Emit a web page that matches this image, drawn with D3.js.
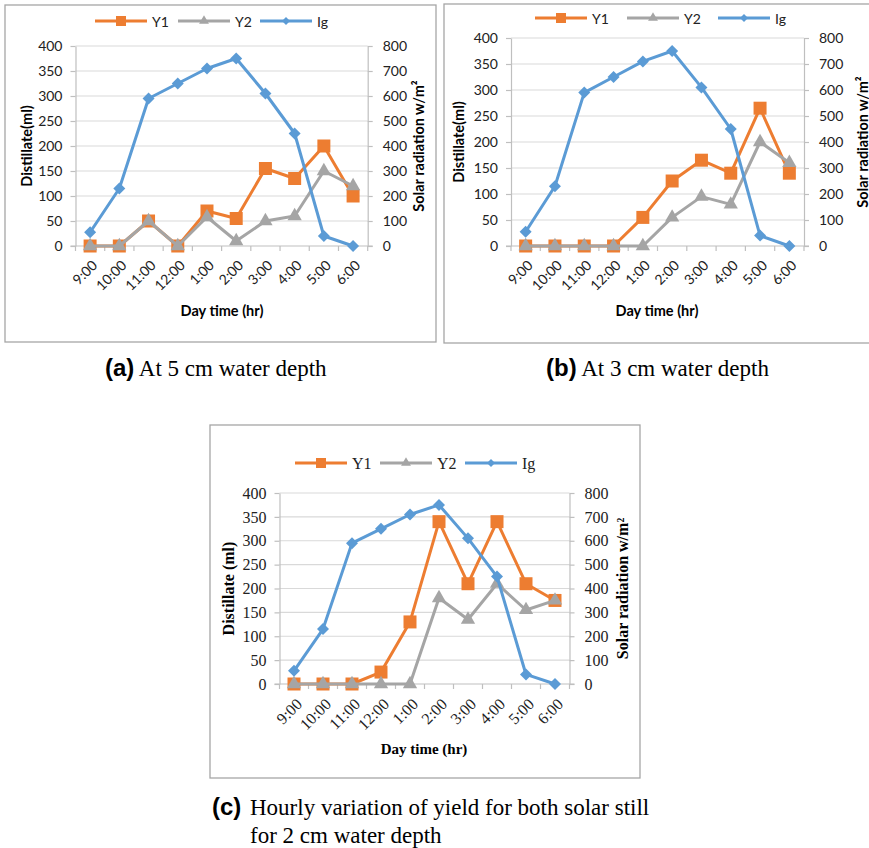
<!DOCTYPE html>
<html><head><meta charset="utf-8">
<script src="https://cdn.jsdelivr.net/npm/d3@7"></script>
<style>body{margin:0;background:#fff} svg{display:block}</style>
</head><body>
<svg id="chart" width="869" height="848"></svg>
<script>
// ---------------- DATA ----------------
const categories = ["9:00","10:00","11:00","12:00","1:00","2:00","3:00","4:00","5:00","6:00"];
const seriesNames = ["Y1","Y2","Ig"];
const distillateTicks = [0,50,100,150,200,250,300,350,400];
const radiationTicks = [0,100,200,300,400,500,600,700,800];
// Distillate (ml) – panel (a) 5 cm
const y1_5cm = [0,0,50,0,70,55,155,135,200,100];
const y2_5cm = [0,0,50,0,58,10,50,60,150,120];
// panel (b) 3 cm
const y1_3cm = [0,0,0,0,55,125,165,140,265,140];
const y2_3cm = [0,0,0,0,0,55,95,80,200,160];
// panel (c) 2 cm
const y1_2cm = [0,0,0,25,130,340,210,340,210,175];
const y2_2cm = [0,0,0,0,0,180,135,210,155,175];
// Solar radiation Ig (W/m2), same for all panels
const ig = [55,230,590,650,710,750,610,450,40,0];

const colors = {Y1:"#ED7D31", Y2:"#A5A5A5", Ig:"#5B9BD5"};

const svg = d3.select("#chart");

const panels = [
  {y1:y1_5cm, y2:y2_5cm, box:[5,5,431,337], plot:{l:75.5,r:367.7,t:46,b:246},
   font:"Lato, 'Open Sans', sans-serif", tick:14, title:14.5, ytitle:14.5, legendSize:14, legendY:21, legendX:[95,178,260],
   leftTitle:"Distillate(ml)", leftX:26, rightX:418, xTitleX:222, xTitleY:316},
  {y1:y1_3cm, y2:y2_3cm, box:[444,4,460,339], plot:{l:511,r:804,t:38,b:246},
   font:"Lato, 'Open Sans', sans-serif", tick:14, title:14.5, ytitle:14.5, legendSize:14, legendY:18, legendX:[535,627,718],
   leftTitle:"Distillate(ml)", leftX:458, rightX:862, xTitleX:657, xTitleY:316},
  {y1:y1_2cm, y2:y2_2cm, box:[210,425,430,353], plot:{l:279.5,r:569.5,t:493,b:684},
   font:"'Liberation Serif', 'Times New Roman', serif", tick:16, title:15, ytitle:16, legendSize:16, legendY:463, legendX:[295,380,465],
   leftTitle:"Distillate (ml)", leftX:228, rightX:622, xTitleX:424, xTitleY:754}
];

function marker(sel, name, size){
  if(name==="Y1"){
    return sel.append("path").attr("d", d3.symbol(d3.symbolSquare, size*size)());
  } else if(name==="Y2"){
    const area = Math.sqrt(3)/4*(size*1.1)*(size*1.1);
    return sel.append("path").attr("d", d3.symbol(d3.symbolTriangle, area)());
  } else {
    const side = size/Math.SQRT2;
    return sel.append("path").attr("d", d3.symbol(d3.symbolSquare, side*side)()).attr("transform","rotate(45)");
  }
}

panels.forEach(p => {
  const g = svg.append("g");
  // box
  g.append("rect").attr("x",p.box[0]).attr("y",p.box[1]).attr("width",p.box[2]).attr("height",p.box[3])
    .attr("fill","#fff").attr("stroke","#a6a6a6").attr("stroke-width",1.3);

  const x = d3.scaleBand().domain(categories).range([p.plot.l, p.plot.r]).padding(0);
  const yL = d3.scaleLinear().domain([0,400]).range([p.plot.b, p.plot.t]);
  const yR = d3.scaleLinear().domain([0,800]).range([p.plot.b, p.plot.t]);
  const cx = c => x(c) + x.bandwidth()/2;

  // gridlines
  g.append("g").selectAll("line").data(distillateTicks.filter(v=>v>0)).join("line")
    .attr("x1",p.plot.l).attr("x2",p.plot.r).attr("y1",d=>yL(d)).attr("y2",d=>yL(d))
    .attr("stroke","#d9d9d9").attr("stroke-width",1.2);

  // left axis
  const axL = g.append("g").attr("transform",`translate(${p.plot.l},0)`)
    .call(d3.axisLeft(yL).tickValues(distillateTicks).tickSize(5).tickPadding(8).tickSizeOuter(0));
  // right axis
  const axR = g.append("g").attr("transform",`translate(${p.plot.r},0)`)
    .call(d3.axisRight(yR).tickValues(radiationTicks).tickSize(5).tickPadding(10).tickSizeOuter(0));
  [axL,axR].forEach(a=>{
    a.selectAll("path,line").attr("stroke","#bfbfbf").attr("stroke-width",1.2);
    a.selectAll("text").attr("font-family",p.font).attr("font-size",p.tick).attr("fill","#222");
  });

  // bottom axis: line + ticks between categories
  const axB = g.append("g");
  axB.append("line").attr("x1",p.plot.l-5).attr("x2",p.plot.r+5).attr("y1",p.plot.b).attr("y2",p.plot.b)
    .attr("stroke","#bfbfbf").attr("stroke-width",1.2);
  const bounds = categories.map(c=>x(c)).concat([p.plot.r]);
  axB.selectAll("line.tk").data(bounds).join("line").attr("class","tk")
    .attr("x1",d=>d).attr("x2",d=>d).attr("y1",p.plot.b).attr("y2",p.plot.b+5)
    .attr("stroke","#bfbfbf").attr("stroke-width",1.2);
  axB.selectAll("text").data(categories).join("text")
    .attr("transform",d=>`translate(${cx(d)+1},${p.plot.b+13}) rotate(-45)`)
    .attr("text-anchor","end").attr("dy","0.72em")
    .attr("font-family",p.font).attr("font-size",p.tick).attr("fill","#222")
    .text(d=>d);

  // titles
  g.append("text").attr("transform",`translate(${p.leftX},${(p.plot.t+p.plot.b)/2}) rotate(-90)`)
    .attr("text-anchor","middle").attr("dominant-baseline","central")
    .attr("font-family",p.font).attr("font-size",p.ytitle).attr("font-weight","bold").text(p.leftTitle);
  g.append("text").attr("transform",`translate(${p.rightX},${(p.plot.t+p.plot.b)/2}) rotate(-90)`)
    .attr("text-anchor","middle").attr("dominant-baseline","central")
    .attr("font-family",p.font).attr("font-size",p.ytitle).attr("font-weight","bold").text("Solar radiation w/m\u00B2");
  g.append("text").attr("x",p.xTitleX).attr("y",p.xTitleY).attr("text-anchor","middle")
    .attr("font-family",p.font).attr("font-size",p.title).attr("font-weight","bold").text("Day time (hr)");

  // series
  const seriesData = [
    {name:"Y1", values:p.y1, y:yL},
    {name:"Y2", values:p.y2, y:yL},
    {name:"Ig", values:ig, y:yR}
  ];
  seriesData.forEach(s=>{
    const line = d3.line().x((d,i)=>cx(categories[i])).y(d=>s.y(d));
    g.append("path").attr("d",line(s.values)).attr("fill","none")
      .attr("stroke",colors[s.name]).attr("stroke-width",3).attr("stroke-linejoin","round");
    const msz = s.name==="Y1"?13:(s.name==="Y2"?13:12);
    s.values.forEach((v,i)=>{
      const mg = g.append("g").attr("transform",`translate(${cx(categories[i])},${s.y(v)})`);
      marker(mg, s.name, msz).attr("fill",colors[s.name]);
    });
  });

  // legend
  seriesNames.forEach((n,i)=>{
    const lx = p.legendX[i];
    const lg = g.append("g");
    lg.append("line").attr("x1",lx).attr("x2",lx+52).attr("y1",p.legendY).attr("y2",p.legendY)
      .attr("stroke",colors[n]).attr("stroke-width",3);
    const mg = lg.append("g").attr("transform",`translate(${lx+26},${p.legendY})`);
    marker(mg, n, n==="Y1"?10:(n==="Ig"?8:9)).attr("fill",colors[n]);
    lg.append("text").attr("x",lx+57).attr("y",p.legendY).attr("dominant-baseline","central")
      .attr("font-family",p.font).attr("font-size",p.legendSize).attr("fill","#222").text(n);
  });
});

// captions
function caption(x, y, label, rest){
  const t = svg.append("text").attr("x",x).attr("y",y);
  t.append("tspan").attr("font-family","'Liberation Sans', Arial, sans-serif").attr("font-weight","bold")
    .attr("font-size",24).text(label);
  t.append("tspan").attr("font-family","'Liberation Serif', 'Times New Roman', serif").attr("font-size",23)
    .text(" " + rest);
}
caption(105, 376, "(a)", "At 5 cm water depth");
caption(546, 376, "(b)", "At 3 cm water depth");
svg.append("text").attr("x",212).attr("y",815).attr("font-family","'Liberation Sans', Arial, sans-serif")
  .attr("font-weight","bold").attr("font-size",24).text("(c)");
svg.append("text").attr("x",250).attr("y",815).attr("font-family","'Liberation Serif', 'Times New Roman', serif")
  .attr("font-size",23).text("Hourly variation of yield for both solar still");
svg.append("text").attr("x",250).attr("y",843).attr("font-family","'Liberation Serif', 'Times New Roman', serif")
  .attr("font-size",23).text("for 2 cm water depth");
</script>
</body></html>
